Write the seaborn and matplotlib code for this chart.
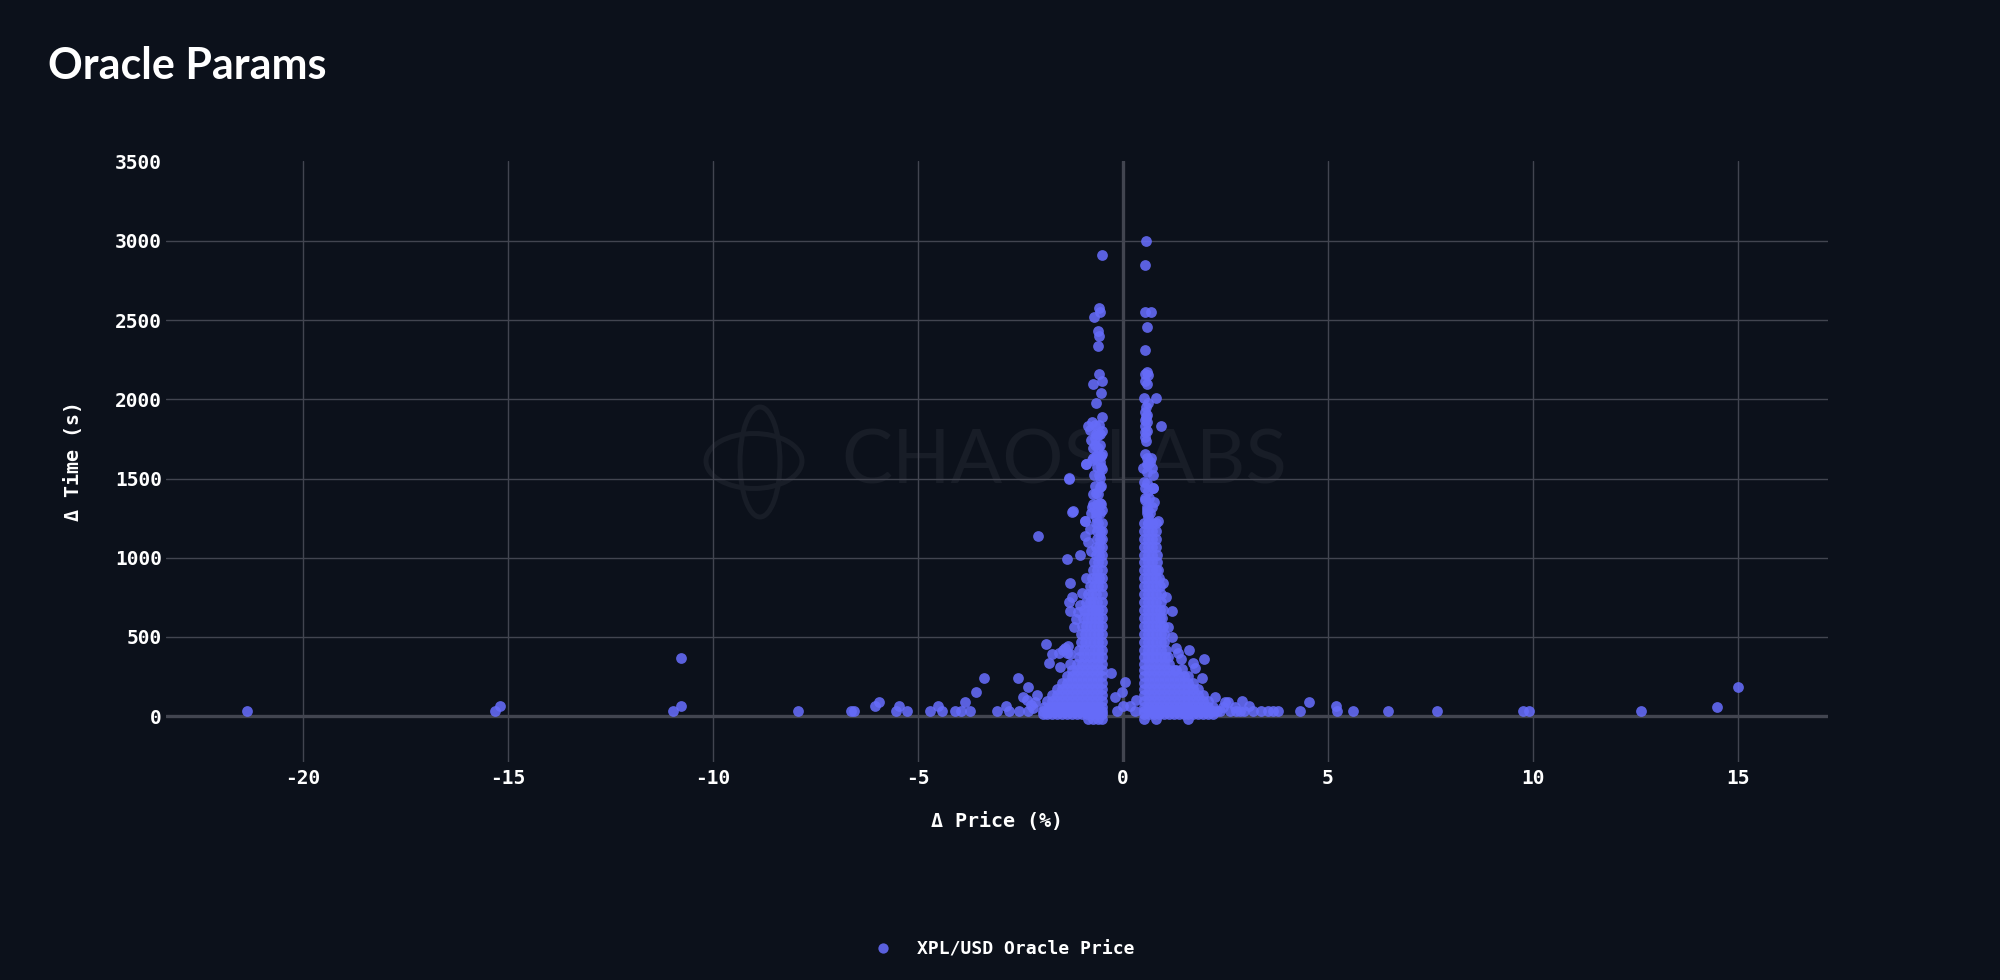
import matplotlib
matplotlib.use('Agg')
from matplotlib import pyplot as plt
from matplotlib.patches import Ellipse
from matplotlib.transforms import IdentityTransform
import seaborn as sns

BG = '#0c111b'
GRID = '#424550'
DOT = '#666cf9'
WATERMARK = '#181d27'

y_ticks = [0, 500, 1000, 1500, 2000, 2500, 3000, 3500]
x_ticks = [-20, -15, -10, -5, 0, 5, 10, 15]

# Far out points, read one by one
far_x = [-21.36, -15.31, -15.2, -10.98, -10.77, -10.77, -7.92, -6.64, -6.55, -6.05, -5.96, -5.53, -5.45, -5.26,
         -4.71, -4.5, -4.42, -4.1, -3.94, -3.84, -3.72, -3.58, -3.39, -3.07, -2.84, -2.78, -2.55, -2.54, -2.43, -2.31, -2.31,
         3.18, 3.38, 3.54, 3.67, 3.79, 4.32, 4.54, 5.19, 5.22, 5.61, 6.47, 7.66, 9.76, 9.9, 12.65, 14.49, 15.0,
         2.49, 2.57, 2.91, 3.07, 2.24, 2.73, 2.85, 2.61, 2.37, 2.45, 2.75, 2.95,
         -2.2, -2.15, -2.25, -2.35, -2.1]
far_y = [32, 32, 63, 30, 63, 364, 32, 32, 32, 63, 90, 32, 63, 32,
         32, 65, 32, 32, 32, 91, 32, 150, 242, 32, 65, 32, 242, 32, 122, 185, 32,
         32, 32, 32, 32, 32, 32, 90, 63, 32, 32, 32, 32, 32, 32, 32, 60, 185,
         91, 91, 97, 65, 122, 60, 32, 32, 32, 55, 32, 32,
         50, 90, 70, 100, 130]

# Between the two bands around zero
mid_x = [-0.3, 0.05, -0.03, -0.2, -0.15, 0.01, 0.17, 0.32, 0.29]
mid_y = [274, 213, 154, 122, 32, 65, 65, 101, 32]

# Scattered points on the negative side
neg_x = [-0.51, -0.58, -0.55, -0.7, -0.6, -0.57, -0.6, -0.58, -0.51, -0.72, -0.54, -0.65, -0.5, -0.75, -0.85, -0.81,
         -0.52, -0.6, -0.77, -0.68, -0.56, -0.68, -0.52, -0.6, -0.72, -0.9, -0.75, -0.56, -0.5, -1.32, -0.56, -0.56,
         -0.65, -1.22, -0.75, -0.56, -0.5, -0.65, -0.93, -0.65, -2.07, -1.37, -1.23, -1.32, -0.89, -0.93, -1.05,
         -1.29, -0.91, -1.25, -1.32, -1.29, -1.88, -1.74, -1.81, -1.46, -1.37, -1.54,
         -1.55, -1.4, -1.3, -1.35, -1.3, -1.2, -1.15, -1.05, -1.0, -1.1, -0.8, -0.84, -0.78, -0.92]
neg_y = [2911, 2578, 2549, 2519, 2429, 2399, 2338, 2159, 2117, 2098, 2037, 1978, 1888, 1858, 1831, 1806,
         1801, 1774, 1742, 1753, 1711, 1711, 1658, 1637, 1627, 1592, 1617, 1606, 1560, 1501, 1501, 1449,
         1406, 1293, 1322, 1343, 1301, 1259, 1232, 1217, 1137, 990, 1290, 1497, 1592, 1232, 1017,
         842, 870, 754, 722, 661, 453, 392, 333, 417, 396, 312,
         400, 430, 390, 440, 330, 560, 610, 700, 780, 660, 1180, 1100, 1040, 1140]

# Scattered points on the positive side
pos_x = [0.56, 0.55, 0.53, 0.68, 0.58, 0.54, 0.6, 0.54, 0.62, 0.54, 0.58, 0.52, 0.8, 0.62, 0.54, 0.56, 0.58, 0.54,
         0.93, 0.53, 0.54, 0.57, 0.55, 0.58, 0.5, 0.66, 0.71, 0.74, 0.52, 0.55, 0.73, 0.53, 0.76, 0.58, 0.62, 0.85,
         0.62, 1.61, 1.43, 1.7, 1.76, 1.97, 1.92, 1.19, 1.06, 0.98, 0.74,
         1.1, 1.2, 1.35, 1.3, 1.45]
pos_y = [2997, 2848, 2549, 2549, 2458, 2309, 2174, 2159, 2153, 2117, 2098, 2010, 2010, 1978, 1921, 1890, 1858, 1831,
         1831, 1795, 1763, 1738, 1652, 1627, 1564, 1606, 1564, 1522, 1480, 1438, 1442, 1364, 1350, 1301, 1259, 1232,
         1217, 417, 360, 333, 301, 360, 240, 661, 754, 838, 1442,
         560, 500, 400, 430, 300]

# Upper thin part of the two bands
band_x = [-0.78, -0.66, -0.56, -0.72, -0.62, -0.54, -0.72, -0.6, -0.68, -0.54, -0.7, -0.58, -0.64, -0.54, -0.66, -0.54,
          -0.72, -0.6, -0.66, -0.56, -0.68, -0.58,
          0.6, 0.66, 0.7, 0.6, 0.64, 0.54, 0.62, 0.6, 0.6, 0.58, 0.62, 0.68, 0.58, 0.54, 0.58, 0.56]
band_y = [1280, 1280, 1280, 1340, 1340, 1340, 1400, 1400, 1450, 1450, 1520, 1520, 1570, 1570, 1640, 1640,
          1690, 1690, 1780, 1780, 1840, 1840,
          1280, 1280, 1320, 1320, 1380, 1380, 1420, 1470, 1540, 1590, 1590, 1630, 1800, 1870, 1900, 1950]

# Solid part of the two bands, row by row
core_y = [-18, 10, 32, 60, 95, 130, 170, 210, 250, 290, 330, 375, 420, 470, 520, 570, 620, 670, 720, 770, 820, 870,
          920, 970, 1020, 1070, 1120, 1170, 1220]
core_left = [
    [-0.86, -0.72, -0.6, -0.52],
    [-1.96, -1.84, -1.72, -1.6, -1.48, -1.36, -1.24, -1.12, -1.0, -0.88, -0.76, -0.64, -0.52],
    [-1.96, -1.84, -1.72, -1.6, -1.48, -1.36, -1.24, -1.12, -1.0, -0.88, -0.76, -0.64, -0.52],
    [-1.92, -1.8, -1.68, -1.56, -1.44, -1.32, -1.2, -1.08, -0.96, -0.84, -0.72, -0.6, -0.52],
    [-1.84, -1.72, -1.6, -1.48, -1.36, -1.24, -1.12, -1.0, -0.88, -0.76, -0.64, -0.52],
    [-1.72, -1.6, -1.48, -1.36, -1.24, -1.12, -1.0, -0.88, -0.76, -0.64, -0.52],
    [-1.6, -1.48, -1.36, -1.24, -1.12, -1.0, -0.88, -0.76, -0.64, -0.52],
    [-1.48, -1.36, -1.24, -1.12, -1.0, -0.88, -0.76, -0.64, -0.52],
    [-1.36, -1.24, -1.12, -1.0, -0.88, -0.76, -0.64, -0.52],
    [-1.24, -1.12, -1.0, -0.88, -0.76, -0.64, -0.52],
    [-1.12, -1.0, -0.88, -0.76, -0.64, -0.52],
    [-1.06, -0.94, -0.82, -0.7, -0.6, -0.52],
    [-1.06, -0.94, -0.82, -0.7, -0.6, -0.52],
    [-1.03, -0.92, -0.8, -0.7, -0.6, -0.52],
    [-1.03, -0.92, -0.8, -0.7, -0.6, -0.52],
    [-1.0, -0.9, -0.8, -0.7, -0.6, -0.52],
    [-0.98, -0.88, -0.78, -0.68, -0.6, -0.52],
    [-0.96, -0.86, -0.76, -0.68, -0.6, -0.52],
    [-0.9, -0.8, -0.72, -0.64, -0.52],
    [-0.86, -0.76, -0.66, -0.52],
    [-0.8, -0.7, -0.6, -0.52],
    [-0.76, -0.66, -0.58, -0.52],
    [-0.72, -0.62, -0.52],
    [-0.7, -0.6, -0.52],
    [-0.66, -0.58, -0.52],
    [-0.66, -0.58, -0.52],
    [-0.64, -0.56, -0.52],
    [-0.64, -0.56, -0.52],
    [-0.6, -0.52],
]
core_right = [
    [0.52, 0.8, 1.6],
    [0.52, 0.64, 0.76, 0.88, 1.0, 1.12, 1.24, 1.36, 1.48, 1.6, 1.72, 1.84, 1.96, 2.08, 2.2],
    [0.52, 0.64, 0.76, 0.88, 1.0, 1.12, 1.24, 1.36, 1.48, 1.6, 1.72, 1.84, 1.96, 2.08, 2.2, 2.3],
    [0.52, 0.64, 0.76, 0.88, 1.0, 1.12, 1.24, 1.36, 1.48, 1.6, 1.72, 1.84, 1.96, 2.08, 2.2],
    [0.52, 0.64, 0.76, 0.88, 1.0, 1.12, 1.24, 1.36, 1.48, 1.6, 1.72, 1.84, 1.96, 2.08],
    [0.52, 0.64, 0.76, 0.88, 1.0, 1.12, 1.24, 1.36, 1.48, 1.6, 1.72, 1.84, 1.96],
    [0.52, 0.64, 0.76, 0.88, 1.0, 1.12, 1.24, 1.36, 1.48, 1.6, 1.72, 1.84],
    [0.52, 0.64, 0.76, 0.88, 1.0, 1.12, 1.24, 1.36, 1.48, 1.6, 1.7],
    [0.52, 0.64, 0.76, 0.88, 1.0, 1.12, 1.24, 1.36, 1.48, 1.6],
    [0.52, 0.64, 0.76, 0.88, 1.0, 1.12, 1.24, 1.3],
    [0.52, 0.64, 0.76, 0.88, 1.0, 1.12],
    [0.52, 0.62, 0.72, 0.82, 0.92, 1.02, 1.1],
    [0.52, 0.62, 0.72, 0.82, 0.92, 1.05],
    [0.52, 0.62, 0.72, 0.82, 0.92, 1.0],
    [0.52, 0.62, 0.72, 0.82, 0.92, 1.0],
    [0.52, 0.62, 0.72, 0.82, 0.9, 0.98],
    [0.52, 0.62, 0.72, 0.82, 0.9, 0.96],
    [0.52, 0.62, 0.72, 0.82, 0.9, 0.98],
    [0.52, 0.62, 0.72, 0.82, 0.94],
    [0.52, 0.62, 0.72, 0.82, 0.92],
    [0.52, 0.62, 0.72, 0.82, 0.9],
    [0.52, 0.62, 0.72, 0.8, 0.88],
    [0.52, 0.62, 0.72, 0.8, 0.86],
    [0.52, 0.62, 0.72, 0.84],
    [0.52, 0.62, 0.72, 0.84],
    [0.52, 0.62, 0.72, 0.82],
    [0.52, 0.62, 0.72, 0.82],
    [0.52, 0.62, 0.72, 0.8],
    [0.52, 0.62, 0.72, 0.8],
]

title = 'Oracle Params'
x_label = 'Δ Price (%)'
y_label = 'Δ Time (s)'
series_name = 'XPL/USD Oracle Price'

sns.set_theme(style='dark', rc={'figure.facecolor': BG, 'axes.facecolor': BG, 'savefig.facecolor': BG})
MONO = ['DejaVu Sans Mono']

xs = far_x + mid_x + neg_x + pos_x + band_x
ys = far_y + mid_y + neg_y + pos_y + band_y
for y, left, right in zip(core_y, core_left, core_right):
    xs = xs + left + right
    ys = ys + [y] * (len(left) + len(right))

fig = plt.figure(figsize=(20, 9.8), dpi=100)
ax = fig.add_axes([166 / 2000, 218 / 980, 1662 / 2000, 601 / 980])
ax.set_zorder(1)

sns.scatterplot(x=xs, y=ys, ax=ax, color=DOT, alpha=0.88, s=60, linewidth=0, zorder=3, legend=False)

ax.set_xlim(-23.34, 17.2)
ax.set_ylim(-290, 3505)
ax.set_xticks(x_ticks)
ax.set_yticks(y_ticks)
ax.set_xticklabels([str(t) for t in x_ticks])
ax.grid(True, color=GRID, linewidth=1.0, zorder=1)
ax.yaxis.get_gridlines()[-1].set_visible(False)
ax.axhline(0, color=GRID, linewidth=2.4, zorder=2)
ax.axvline(0, color=GRID, linewidth=2.4, zorder=2)
for spine in ax.spines.values():
    spine.set_visible(False)
ax.tick_params(axis='both', length=0, colors='white', labelsize=14)
ax.tick_params(axis='x', pad=5)
ax.tick_params(axis='y', pad=3)
for lab in ax.get_xticklabels() + ax.get_yticklabels():
    lab.set_family(MONO)
    lab.set_fontweight('bold')

ax.set_xlabel('')
ax.set_ylabel('')
fig.text(997 / 2000, 1 - 821 / 980, x_label, color='white', family=MONO, fontweight='bold', fontsize=14.4,
         ha='center', va='center')
fig.text(73 / 2000, 1 - 461 / 980, y_label, color='white', family=MONO, fontweight='bold', fontsize=14.4,
         rotation=90, ha='center', va='center')
fig.text(48 / 2000, 1 - 79 / 980, title, color='white', family='Lato', fontweight='bold', fontsize=31,
         ha='left', va='baseline')

# Legend at the bottom
handle = plt.Line2D([], [], marker='o', linestyle='none', color=DOT, alpha=0.88, markersize=7.4, markeredgewidth=0)
fig.legend([handle], [series_name], loc='center', bbox_to_anchor=(1000 / 2000, 1 - 949 / 980), frameon=False,
           handletextpad=0.9, prop={'family': MONO, 'weight': 'bold', 'size': 13.0}, labelcolor='white')

# Watermark behind the axes
fig.text(1064 / 2000, 1 - 462 / 980, 'CHAOSLABS', color=WATERMARK, family='Lato', fontsize=55,
         ha='center', va='center', zorder=0.5)
ax.patch.set_alpha(0)
for center, w, h in [((760, 462), 40, 110), ((754, 461), 96, 55)]:
    fig.add_artist(Ellipse((center[0], 980 - center[1]), w, h, fill=False, edgecolor=WATERMARK, linewidth=3.6,
                           transform=IdentityTransform(), zorder=0.5))

fig.savefig('out.png', dpi=100)
